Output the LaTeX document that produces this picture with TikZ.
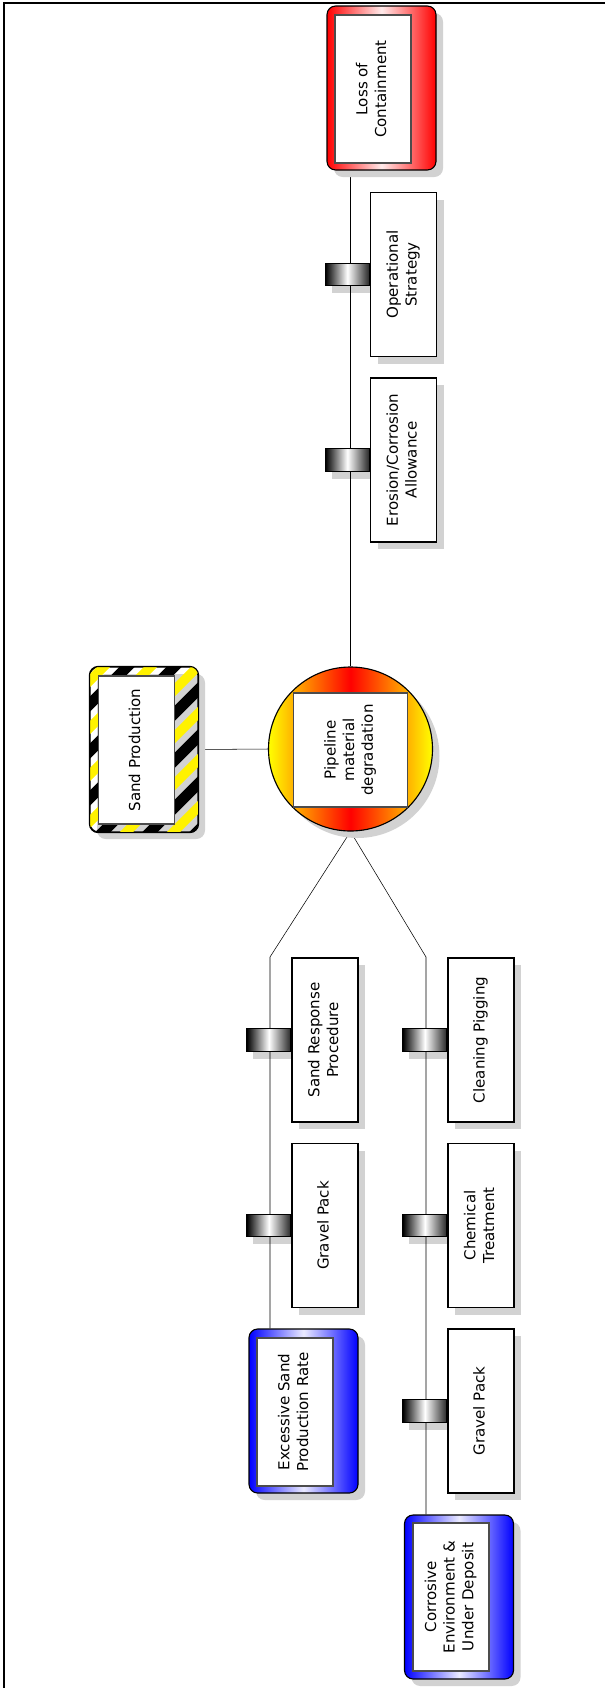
\documentclass[tikz,border=0pt]{standalone}
\usepackage{fontspec}
\setmainfont{DejaVu Sans}
\usepackage{graphicx}
\usepackage{tikz}
\usetikzlibrary{positioning}
\usetikzlibrary{shadows}
\usetikzlibrary{backgrounds}
\definecolor{shadowgray}{RGB}{210,210,210}
\newcommand{\vtxt}[1]{\rotatebox{90}{\begin{tabular}{@{}c@{}}#1\end{tabular}}}
\tikzset{every picture/.style={line width=0.85pt},
  boxshadow/.style={drop shadow={shadow xshift=5.25pt, shadow yshift=-5.25pt, fill=shadowgray, opacity=1}},
  ctrl/.style={draw, fill=white, minimum width=49.5pt, minimum height=123pt, inner sep=0pt, boxshadow},
  barrier/.style={draw, left color=black, right color=black!85, middle color=white, minimum width=33pt, minimum height=17pt, inner sep=0pt},
  outerbox/.style={draw, rounded corners=6.5pt, minimum width=81.75pt, minimum height=123pt, inner sep=0pt, boxshadow},
  threat/.style={outerbox, left color=blue, right color=blue, middle color=blue!8},
  conseq/.style={outerbox, left color=red, right color=red, middle color=red!8},
  hazard/.style={outerbox, minimum width=81pt, minimum height=123.75pt},
  innerbox/.style={draw=black!70, fill=white, minimum width=57pt, minimum height=111pt, inner sep=0pt},
  topevent/.style={circle, draw, left color=yellow, right color=yellow, middle color=red, minimum size=123pt, inner sep=0pt, boxshadow},
  topinner/.style={draw=black!70, fill=white, minimum width=86pt, minimum height=85.5pt, inner sep=0pt}}

\begin{document}
\begin{tikzpicture}[x=0.75pt, y=-0.75pt, font=\fontsize{11.3}{14}\selectfont]
\useasboundingbox (0,0) rectangle (605,1688);
\draw[line width=1.7pt] (3.7,1688) -- (3.7,2.8) -- (605,2.8);

\node (loc) at (381.5,88) [conseq] {};
\node (loci) at (373,89) [innerbox] {\vtxt{Loss of\\Containment}};

\node (os) at (403.5,274.5) [ctrl] {\vtxt{Operational\\Strategy}};
\node (b1) [barrier, left=0pt of os] {};
\node (eca) at (403.5,460) [ctrl] {\vtxt{Erosion/Corrosion\\Allowance}};
\node (b2) [barrier, left=0pt of eca] {};

\node (circ) at (350.5,749) [topevent] {};
\node (circi) at (350.5,750) [topinner] {\vtxt{Pipeline\\material\\degradation}};

\node (haz) at (144,749.5) [hazard] {};
\begin{scope}
\clip[rounded corners=6.5pt] (haz.south west) rectangle (haz.north east);
\foreach \c in {700,747,...,1100} {
  \draw[line width=8pt, black] ({\c-650},650) -- ({\c-850},850);
  \draw[line width=7pt, yellow] ({\c+23.5-650},650) -- ({\c+23.5-850},850);
}
\end{scope}
\draw[rounded corners=6.5pt] (haz.south west) rectangle (haz.north east);
\node (hazi) at (136.5,750) [innerbox] {\vtxt{Sand Production}};

\coordinate (lbend) at (270,957);
\coordinate (rbend) at (426,957);

\node (srp) at (325,1040) [ctrl] {\vtxt{Sand Response\\Procedure}};
\node (b3) [barrier, left=0pt of srp] {};
\node (gp1) at (325,1225.5) [ctrl] {\vtxt{Gravel Pack}};
\node (b4) [barrier, left=0pt of gp1] {};
\node (esr) at (303.5,1411) [threat] {};
\node (esri) at (295,1412) [innerbox] {\vtxt{Excessive Sand\\Production Rate}};

\node (cp) at (481,1040) [ctrl] {\vtxt{Cleaning Pigging}};
\node (b5) [barrier, left=0pt of cp] {};
\node (ct) at (481,1225.5) [ctrl] {\vtxt{Chemical\\Treatment}};
\node (b6) [barrier, left=0pt of ct] {};
\node (gp2) at (481,1411) [ctrl] {\vtxt{Gravel Pack}};
\node (b7) [barrier, left=0pt of gp2] {};
\node (cor) at (459,1597) [threat] {};
\node (cori) at (451,1597) [innerbox] {\vtxt{Corrosive\\Environment \&\\Under Deposit}};

\begin{scope}[on background layer]
\foreach \i in {1,...,7}
  \fill[shadowgray] ([shift={(7,7)}]b\i.north west) rectangle ([shift={(7,7)}]b\i.south east);
\draw (circ.north) -- (circ.north |- loc.south);
\draw (haz.east) -- (circ.west);
\draw (circ.south) -- (lbend) -- (lbend |- esr.north);
\draw (circ.south) -- (rbend) -- (rbend |- cor.north);
\end{scope}
\end{tikzpicture}
\end{document}
